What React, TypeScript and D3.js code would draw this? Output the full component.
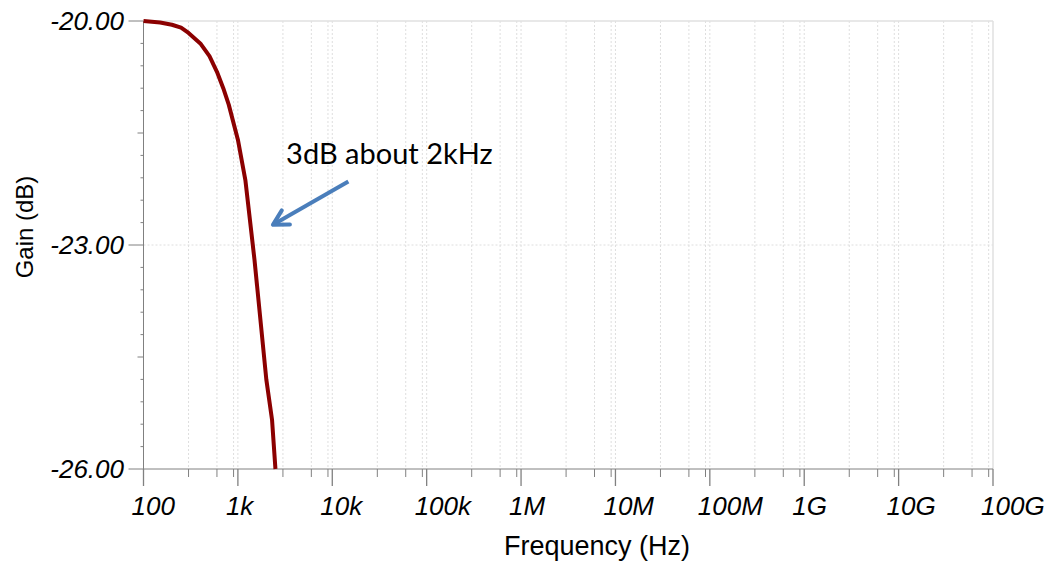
import { scaleLog, scaleLinear, line, range } from "d3";

// frequency response
const freqs = [100, 150, 200, 250, 300, 400, 500, 600, 700, 800, 1000, 1200, 1500, 2000, 2300, 2500];
const gains = [-20.0, -20.02, -20.05, -20.09, -20.16, -20.3, -20.47, -20.68, -20.9, -21.12, -21.59, -22.13, -23.2, -24.8, -25.34, -26.0];

const decades = [1e2, 1e3, 1e4, 1e5, 1e6, 1e7, 1e8, 1e9, 1e10, 1e11];
const decadeLabels = ["100", "1k", "10k", "100k", "1M", "10M", "100M", "1G", "10G", "100G"];
const minorMult = [3, 6, 9];

const gainTicks = [-20, -23, -26];
const gainLabels = ["-20.00", "-23.00", "-26.00"];

const note = "3dB about 2kHz";
const noteAt = { f: 3240, g: -21.91 };
const arrowFrom = { f: 14800, g: -22.15 };
const arrowTo = { f: 2350, g: -22.73 };

const W = 1053;
const H = 562;
const left = 143.5;
const right = 993;
const top = 21;
const bottom = 469;

export default function App() {
  const x = scaleLog().domain([1e2, 1e11]).range([left, right]);
  const y = scaleLinear().domain([-26, -20]).range([bottom, top]);

  const minors = decades.slice(0, -1).flatMap((d) => minorMult.map((m) => d * m));
  const yMinor = range(0, 21).map((i) => -26 + i * 0.3);

  const path = line<number>()
    .x((_, i) => x(freqs[i]))
    .y((g) => y(g))(gains);

  const tip = { x: x(arrowTo.f), y: y(arrowTo.g) };
  const tail = { x: x(arrowFrom.f), y: y(arrowFrom.g) };
  const ang = Math.atan2(tip.y - tail.y, tip.x - tail.x);
  const head = 17;
  const spread = 0.5;
  const wing1 = { x: tip.x - head * Math.cos(ang - spread), y: tip.y - head * Math.sin(ang - spread) };
  const wing2 = { x: tip.x - head * Math.cos(ang + spread), y: tip.y - head * Math.sin(ang + spread) };

  const axisFont = "'Liberation Sans', Arial, sans-serif";

  return (
    <svg width={W} height={H} style={{ position: "absolute", left: 0, top: 0, background: "#fff" }}>
      {/* grid */}
      {[...minors, ...decades.slice(1, -1)].map((f, i) => (
        <line key={"vg" + i} x1={x(f)} x2={x(f)} y1={top} y2={bottom} stroke="#dedede" strokeDasharray="2,2" />
      ))}
      <line x1={left} x2={right} y1={y(-23)} y2={y(-23)} stroke="#dedede" strokeDasharray="2,2" />
      <line x1={left} x2={right} y1={top} y2={top} stroke="#e0e0e0" strokeWidth={1.5} />
      <line x1={right} x2={right} y1={top} y2={bottom} stroke="#e0e0e0" strokeWidth={1.5} />

      {/* axes */}
      <line x1={left} x2={left} y1={top} y2={bottom} stroke="#808080" />
      <line x1={left} x2={right} y1={bottom} y2={bottom} stroke="#808080" />

      {yMinor.map((g, i) => {
        const major = i % 10 === 0;
        const mid = i % 5 === 0;
        const len = major ? 15 : mid ? 6 : 3;
        return <line key={"yt" + i} x1={left - len} x2={left} y1={y(g)} y2={y(g)} stroke="#808080" />;
      })}
      {minors.map((f, i) => (
        <line key={"xm" + i} x1={x(f)} x2={x(f)} y1={bottom} y2={bottom + 8} stroke="#808080" />
      ))}
      {decades.map((f, i) => (
        <line key={"xd" + i} x1={x(f)} x2={x(f)} y1={bottom} y2={bottom + 17} stroke="#808080" strokeWidth={1.3} />
      ))}

      {decades.map((f, i) => (
        <text key={"xl" + i} x={x(f) - 12} y={515} fontFamily={axisFont} fontStyle="italic" fontSize={26} fill="#000">
          {decadeLabels[i]}
        </text>
      ))}
      {gainTicks.map((g, i) => (
        <text key={"yl" + i} x={124} y={y(g) + 9} textAnchor="end" fontFamily={axisFont} fontStyle="italic" fontSize={26} fill="#000">
          {gainLabels[i]}
        </text>
      ))}

      <text x={597} y={555} textAnchor="middle" fontFamily={axisFont} fontSize={27} fill="#000">
        Frequency (Hz)
      </text>
      <text transform="translate(33,227) rotate(-90)" textAnchor="middle" fontFamily={axisFont} fontSize={24} fill="#000">
        Gain (dB)
      </text>

      {/* response */}
      <path d={path ?? ""} fill="none" stroke="#8b0000" strokeWidth={4} strokeLinejoin="round" />

      {/* annotation */}
      <text x={x(noteAt.f)} y={y(noteAt.g)} fontFamily="Lato, 'Open Sans', sans-serif" fontSize={29} fill="#000">
        {note}
      </text>
      <line x1={tail.x} y1={tail.y} x2={tip.x - 3 * Math.cos(ang)} y2={tip.y - 3 * Math.sin(ang)} stroke="#4a7ebb" strokeWidth={4} />
      <polyline
        points={`${wing1.x},${wing1.y} ${tip.x},${tip.y} ${wing2.x},${wing2.y}`}
        fill="none"
        stroke="#4a7ebb"
        strokeWidth={4}
        strokeLinecap="round"
        strokeLinejoin="round"
      />
    </svg>
  );
}
